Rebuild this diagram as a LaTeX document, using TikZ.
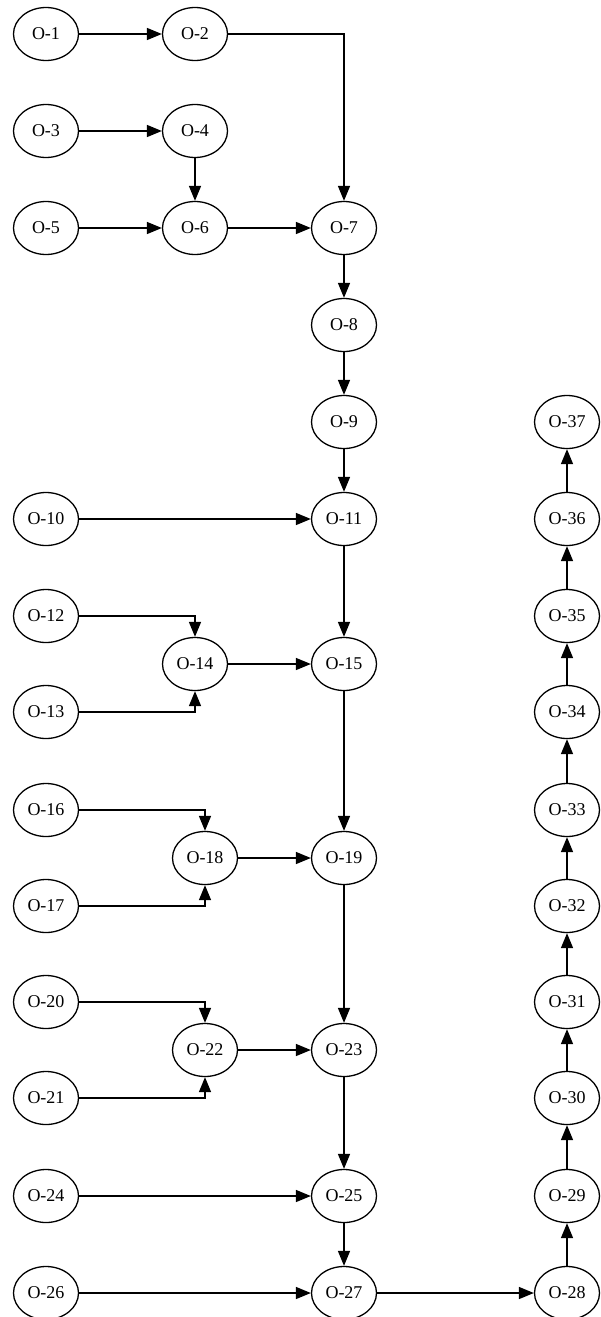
\documentclass[tikz,border=0pt]{standalone}
\usepackage{fontspec}
\setmainfont{Liberation Serif}
\usetikzlibrary{arrows.meta,shapes.geometric}
\begin{document}
\begin{tikzpicture}[x=1pt,y=-1pt,
  nd/.style={draw, ellipse, line width=1.3pt, minimum width=65pt, minimum height=53pt, inner sep=0pt, font=\fontsize{18}{18}\selectfont},
  ar/.style={line width=1.5pt, -{Triangle[length=15pt,width=12pt]}}]
\useasboundingbox (0,0) rectangle (601,1317);
\def\xa{46}\def\xb{195}\def\xc{205}\def\xd{344}\def\xe{567}
\node[nd] (n1) at (\xa,34) {O-1};
\node[nd] (n2) at (\xb,34) {O-2};
\node[nd] (n3) at (\xa,131) {O-3};
\node[nd] (n4) at (\xb,131) {O-4};
\node[nd] (n5) at (\xa,228) {O-5};
\node[nd] (n6) at (\xb,228) {O-6};
\node[nd] (n7) at (\xd,228) {O-7};
\node[nd] (n8) at (\xd,325) {O-8};
\node[nd] (n9) at (\xd,422) {O-9};
\node[nd] (n10) at (\xa,519) {O-10};
\node[nd] (n11) at (\xd,519) {O-11};
\node[nd] (n12) at (\xa,616) {O-12};
\node[nd] (n13) at (\xa,712) {O-13};
\node[nd] (n14) at (\xb,664) {O-14};
\node[nd] (n15) at (\xd,664) {O-15};
\node[nd] (n16) at (\xa,810) {O-16};
\node[nd] (n17) at (\xa,906) {O-17};
\node[nd] (n18) at (\xc,858) {O-18};
\node[nd] (n19) at (\xd,858) {O-19};
\node[nd] (n20) at (\xa,1002) {O-20};
\node[nd] (n21) at (\xa,1098) {O-21};
\node[nd] (n22) at (\xc,1050) {O-22};
\node[nd] (n23) at (\xd,1050) {O-23};
\node[nd] (n24) at (\xa,1196) {O-24};
\node[nd] (n25) at (\xd,1196) {O-25};
\node[nd] (n26) at (\xa,1293) {O-26};
\node[nd] (n27) at (\xd,1293) {O-27};
\node[nd] (n28) at (\xe,1293) {O-28};
\node[nd] (n29) at (\xe,1196) {O-29};
\node[nd] (n30) at (\xe,1098) {O-30};
\node[nd] (n31) at (\xe,1002) {O-31};
\node[nd] (n32) at (\xe,906) {O-32};
\node[nd] (n33) at (\xe,810) {O-33};
\node[nd] (n34) at (\xe,712) {O-34};
\node[nd] (n35) at (\xe,616) {O-35};
\node[nd] (n36) at (\xe,519) {O-36};
\node[nd] (n37) at (\xe,422) {O-37};
\draw[ar] (n1) -- (n2);
\draw[ar] (n2) -| (n7);
\draw[ar] (n3) -- (n4);
\draw[ar] (n4) -- (n6);
\draw[ar] (n5) -- (n6);
\draw[ar] (n6) -- (n7);
\draw[ar] (n7) -- (n8);
\draw[ar] (n8) -- (n9);
\draw[ar] (n9) -- (n11);
\draw[ar] (n10) -- (n11);
\draw[ar] (n11) -- (n15);
\draw[ar] (n12) -| (n14);
\draw[ar] (n13) -| (n14);
\draw[ar] (n14) -- (n15);
\draw[ar] (n15) -- (n19);
\draw[ar] (n16) -| (n18);
\draw[ar] (n17) -| (n18);
\draw[ar] (n18) -- (n19);
\draw[ar] (n19) -- (n23);
\draw[ar] (n20) -| (n22);
\draw[ar] (n21) -| (n22);
\draw[ar] (n22) -- (n23);
\draw[ar] (n23) -- (n25);
\draw[ar] (n24) -- (n25);
\draw[ar] (n25) -- (n27);
\draw[ar] (n26) -- (n27);
\draw[ar] (n27) -- (n28);
\draw[ar] (n28) -- (n29);
\draw[ar] (n29) -- (n30);
\draw[ar] (n30) -- (n31);
\draw[ar] (n31) -- (n32);
\draw[ar] (n32) -- (n33);
\draw[ar] (n33) -- (n34);
\draw[ar] (n34) -- (n35);
\draw[ar] (n35) -- (n36);
\draw[ar] (n36) -- (n37);
\end{tikzpicture}
\end{document}
